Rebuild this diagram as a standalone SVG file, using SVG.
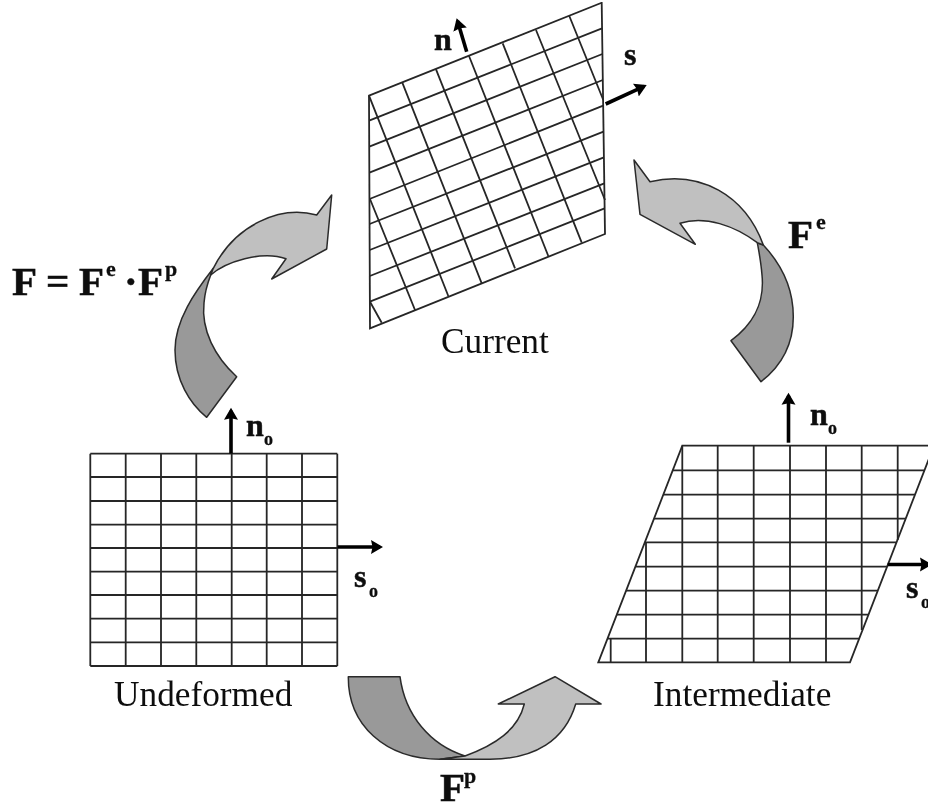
<svg xmlns="http://www.w3.org/2000/svg" width="928" height="809" viewBox="0 0 928 809">
<style>
.g{fill:none;stroke:#262626;stroke-width:1.8}
.v{fill:none;stroke:#000;stroke-width:3.6}
.d{fill:#999;stroke:#2a2a2a;stroke-width:1.5;stroke-linejoin:round}
.l{fill:#c0c0c0;stroke:#2a2a2a;stroke-width:1.5;stroke-linejoin:round}
text{font-family:"Liberation Serif","Times New Roman",serif;fill:#111}
.c{font-size:35.3px}
.b{font-weight:bold;font-size:41px;stroke:#111;stroke-width:.5}
.p{font-weight:bold;font-size:22px;stroke:#111;stroke-width:.3}
.m{font-weight:bold;font-size:32px;stroke:#111;stroke-width:.5}
.o{font-weight:bold;font-size:18px;stroke:#111;stroke-width:.3}
</style>
<defs>
<marker id="head" markerUnits="userSpaceOnUse" markerWidth="16" markerHeight="16" refX="9" refY="8" orient="auto"><path d="M0,1L12,8L0,15L1.5,8Z" fill="#000"/></marker>
<filter id="soft" x="0" y="0" width="1" height="1"><feGaussianBlur stdDeviation="0.4"/></filter>
</defs>
<rect width="928" height="809" fill="#fff"/>
<g filter="url(#soft)">
<g id="undeformed">
<path class="g" d="M90.3,453.7V666M125.7,453.7V666M161,453.7V666M196.3,453.7V666M231.7,453.7V666M266.7,453.7V666M302,453.7V666M337.3,453.7V666"/>
<path class="g" d="M90.3,453.7H337.3M90.3,477H337.3M90.3,501H337.3M90.3,524.7H337.3M90.3,548H337.3M90.3,571.7H337.3M90.3,595H337.3M90.3,618.7H337.3M90.3,642.3H337.3M90.3,666H337.3"/>
<text class="c" x="114" y="706">Undeformed</text>
</g>
<g id="intermediate">
<path class="g" d="M682.3,445.7H934L850,662.3H598.3Z"/>
<path class="g" d="M672.7,470.3H924.5M663.2,494.7H915M653.9,518.7H905.7M644.8,542.3H896.6M635.3,566.7H887.1M626,590.7H877.8M616.7,614.7H868.5M607.4,638.7H859.2"/>
<path class="g" d="M610.7,638.7V662.3M646,542.3V662.3M682.3,445.7V662.3M717.7,445.7V662.3M753.7,445.7V662.3M790,445.7V662.3M826,445.7V662.3M861.7,445.7V630M897.7,445.7V540"/>
<text class="c" x="653" y="706">Intermediate</text>
</g>
<g id="current">
<path class="g" d="M369,95.7L601.7,2.7L605,234L370,328.3Z"/>
<path class="g" d="M369.1,120.7L602,28.3M369.3,146.7L602.4,54M369.4,172.7L602.8,80M369.5,199L603.2,105.7M369.6,224L603.5,131.7M369.7,250L603.9,157.3M369.8,276L604.3,183.3M369.9,301.7L604.6,208.3"/>
<path class="g" d="M369,95.7L448.3,296M402.3,82.7L481.7,283.3M436,69.3L515,268.3M469,56L548.3,256M502.7,43.3L581.7,242.7M536,30L605,200M569.3,16L603.3,100M370,199L415,310M370,301.7L381.7,322.7"/>
<text class="c" x="441" y="353">Current</text>
</g>
<g id="connectors">
<path class="v" marker-end="url(#head)" d="M466.7,51.7L457.5,21"/>
<path class="v" marker-end="url(#head)" d="M605.7,104L644,86.3"/>
<path class="v" marker-end="url(#head)" d="M231,453.5V410.7"/>
<path class="v" marker-end="url(#head)" d="M337.7,547H380"/>
<path class="v" marker-end="url(#head)" d="M788.5,442.7V395.7"/>
<path class="v" marker-end="url(#head)" d="M887.7,564.5H929"/>
</g>
<g id="arrow-total">
<path class="d" d="M206.7,417.3L236.7,376.7C215,357 201,330 204,303C205,290 208,282 210.7,275L213.3,268.3C195,292 175,320 175,350C175,380 190,404 206.7,417.3Z"/>
<path class="l" d="M210.7,275C225,262 262,250 286,258.7L271.7,279L326.7,249L331.7,195L316.7,215C280,205 235,225 213.3,268.3Z"/>
</g>
<g id="arrow-elastic">
<path class="d" d="M761,381.7L731,340.7C752,325 765,305 762,275C761,262 759,252 757.3,242.7L763.3,245C782,265 793.3,290 793.3,316.7C793.3,345 780,367 761,381.7Z"/>
<path class="l" d="M757.3,242.7C735,226 705,215 680,223.3L695.3,244.3L640,214.3L634,160L650,181.7C700,170 745,195 763.3,245Z"/>
</g>
<g id="arrow-plastic">
<path class="d" d="M348.3,676.7H400C405,715 430,745 465,756L440,759.3C385,759 348,725 348.3,676.7Z"/>
<path class="l" d="M465,756C495,745 518,730 524.3,704H498.3L555,676.7L601,704H575.7C565,740 535,759.3 490,759.3H440Z"/>
</g>
<g id="labels">
<text class="b" x="12" y="295">F</text><text class="b" x="46" y="295">=</text><text class="b" x="79" y="295">F</text><text class="p" x="106" y="276">e</text><text class="b" x="124" y="295">·</text><text class="b" x="138" y="295">F</text><text class="p" x="165" y="276">p</text>
<text class="b" x="788" y="248">F</text><text class="p" x="816" y="229">e</text>
<text class="b" x="440" y="801">F</text><text class="p" x="464" y="783">p</text>
<text class="m" x="434" y="50">n</text><text class="m" x="624" y="65">s</text>
<text class="m" x="246" y="436">n</text><text class="o" x="264" y="445">o</text>
<text class="m" x="810" y="425">n</text><text class="o" x="828" y="434">o</text>
<text class="m" x="354" y="587">s</text><text class="o" x="369" y="597">o</text>
<text class="m" x="906" y="598">s</text><text class="o" x="921" y="608">o</text>
</g>
</g>
</svg>
